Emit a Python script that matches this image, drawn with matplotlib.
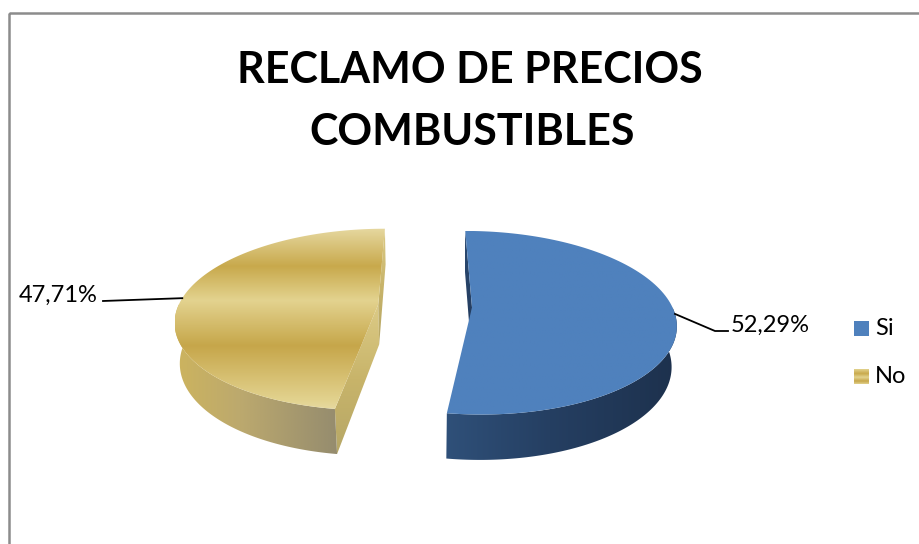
import numpy as np
import matplotlib
matplotlib.use("Agg")
import matplotlib.pyplot as plt
from matplotlib.patches import Polygon, Rectangle
from matplotlib.colors import LinearSegmentedColormap

# ---- data ----
categories = ["Si", "No"]
values = [52.29, 47.71]
value_labels = ["52,29%", "47,71%"]
title_lines = ["RECLAMO DE PRECIOS", "COMBUSTIBLES"]

W, H = 920, 544
fig = plt.figure(figsize=(W / 100, H / 100), dpi=100)
ax = fig.add_axes([0, 0, 1, 1])
ax.set_xlim(0, W)
ax.set_ylim(H, 0)
ax.axis("off")

FONT = ["Lato", "DejaVu Sans"]

# ---- 3D view parameters ----
PHI = np.radians(28.5)      # elevation of the camera
FD = 5.4                    # camera distance (pie radius = 1)
K = 1058.0                  # pixel scale * camera distance
CX, CY = 425.0, 346.0       # screen position of the pie base centre
THICK = 0.228               # pie height
EXPLODE = 0.235             # radial offset of each slice

SA, CA = np.sin(PHI), np.cos(PHI)
CAM = np.array([0.0, FD * CA, FD * SA])


def project(X, Y, Z):
    X, Y, Z = np.broadcast_arrays(np.asarray(X, float), np.asarray(Y, float), np.asarray(Z, float))
    w = Y * CA + Z * SA
    v = Z * CA - Y * SA
    s = K / (FD - w)
    return np.column_stack([CX + X * s, CY - v * s])


def ring(t0, t1, z, off, r=1.0, n=120):
    t = np.linspace(t0, t1, n)
    return project(off[0] + r * np.sin(t), off[1] - r * np.cos(t), np.full_like(t, z))


def grad_fill(xy, stops, axis="x", z=2):
    patch = Polygon(xy, closed=True, facecolor="none", edgecolor="none", zorder=z)
    ax.add_patch(patch)
    cmap = LinearSegmentedColormap.from_list("g", stops)
    x0, y0 = xy.min(axis=0)
    x1, y1 = xy.max(axis=0)
    g = np.linspace(0, 1, 256)
    img = g[None, :] if axis == "x" else g[:, None]
    im = ax.imshow(img, cmap=cmap, extent=(x0, x1, y1, y0), origin="upper",
                   aspect="auto", interpolation="bilinear", zorder=z)
    im.set_clip_path(patch)


def face_visible(theta, outward_sign, off):
    n = outward_sign * np.array([np.cos(theta), np.sin(theta), 0.0])
    p = np.array([off[0] + 0.5 * np.sin(theta), off[1] - 0.5 * np.cos(theta), THICK / 2])
    return np.dot(n, CAM - p) > 0


styles = {
    "Si": dict(top=[(0, "#4F81BD"), (1, "#4F81BD")],
               wall=[(0, "#2F5079"), (0.45, "#253F62"), (1, "#1D314D")],
               cut=[(0, "#2B4A72"), (1, "#22395A")],
               legend=[(0, "#4F81BD"), (1, "#4F81BD")]),
    "No": dict(top=[(0, "#E6D8A0"), (0.21, "#C8A94C"), (0.40, "#E3D38F"),
                    (0.65, "#C6A64A"), (0.95, "#E2D28E"), (1, "#E6D9A0")],
               wall=[(0, "#CDB45E"), (0.4, "#BCA96E"), (1, "#958C6E")],
               cut=[(0, "#DCCB86"), (0.5, "#C8B46A"), (1, "#B6A767")],
               legend=[(0, "#E3D38F"), (0.3, "#C8A94C"), (0.55, "#E3D38F"),
                       (0.8, "#C6A64A"), (1, "#E2D28E")]),
}

fracs = np.array(values) / sum(values)
starts = np.concatenate([[0], np.cumsum(fracs)[:-1]]) * 2 * np.pi
ends = np.cumsum(fracs) * 2 * np.pi

anchors = {}
for cat, t0, t1 in zip(categories, starts, ends):
    st = styles[cat]
    tm = (t0 + t1) / 2
    off = (EXPLODE * np.sin(tm), -EXPLODE * np.cos(tm))

    # radial cut faces
    for theta, sign in ((t0, -1), (t1, 1)):
        if face_visible(theta, sign, off):
            ex, ey = off[0] + np.sin(theta), off[1] - np.cos(theta)
            quad = project([off[0], ex, ex, off[0]], [off[1], ey, ey, off[1]],
                           [THICK, THICK, 0, 0])
            grad_fill(quad, st["cut"], axis="y", z=2)

    # outer wall (front half only)
    a0 = max(t0, np.pi / 2)
    a1 = min(t1, 3 * np.pi / 2)
    if a1 > a0:
        wall = np.vstack([ring(a0, a1, THICK, off), ring(a1, a0, 0, off)])
        grad_fill(wall, st["wall"], axis="x", z=3)

    # top face
    top = np.vstack([project(off[0], off[1], THICK), ring(t0, t1, THICK, off)])
    grad_fill(top, st["top"], axis="y", z=4)

    anchors[cat] = project(off[0] + np.sin(tm), off[1] - np.cos(tm), THICK)[0]

# ---- data labels with leader lines ----
a_si = anchors["Si"]
ax.plot([a_si[0], 715, 728], [a_si[1], 331, 331], color="black", lw=1.3, zorder=5)
ax.text(731, 332, value_labels[0], fontsize=17, family=FONT, ha="left", va="baseline")
a_no = anchors["No"]
ax.plot([a_no[0], 103], [a_no[1], 301], color="black", lw=1.3, zorder=5)
ax.text(98, 302, value_labels[1], fontsize=17, family=FONT, ha="right", va="baseline")

# ---- title ----
ax.text(470, 83, title_lines[0], fontsize=31, fontweight="bold", family=FONT,
        ha="center", va="baseline")
ax.text(472, 145, title_lines[1], fontsize=31, fontweight="bold", family=FONT,
        ha="center", va="baseline")

# ---- legend ----
for i, cat in enumerate(categories):
    y0 = 321 + i * 48
    sq = np.array([[854, y0], [869, y0], [869, y0 + 15], [854, y0 + 15]], float)
    grad_fill(sq, styles[cat]["legend"], axis="y", z=5)
    ax.text(875, y0 + 14, cat, fontsize=17, family=FONT, ha="left", va="baseline")

# ---- chart frame ----
ax.add_patch(Rectangle((9.5, 13), 930, 560, fill=False, edgecolor="#8C8C8C", lw=1.8, zorder=6))

ax.set_xlim(0, W)
ax.set_ylim(H, 0)
fig.savefig("out.png", dpi=100)
